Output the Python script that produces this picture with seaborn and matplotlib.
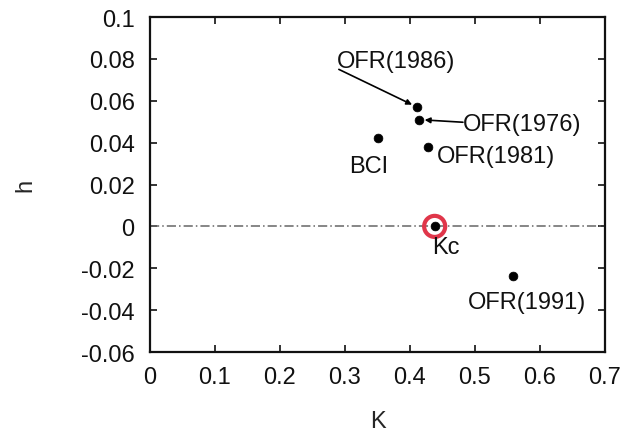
import numpy as np
import pandas as pd
import matplotlib
matplotlib.use("Agg")
import matplotlib.pyplot as plt
import seaborn as sns

# -------- Data --------
labels = ["OFR(1986)", "OFR(1976)", "OFR(1981)", "BCI", "Kc", "OFR(1991)"]
k_values = [0.411, 0.414, 0.428, 0.351, 0.438, 0.559]
h_values = [0.057, 0.051, 0.038, 0.042, 0.000, -0.0238]

x_ticks = [0, 0.1, 0.2, 0.3, 0.4, 0.5, 0.6, 0.7]
x_ticklabels = ["0", "0.1", "0.2", "0.3", "0.4", "0.5", "0.6", "0.7"]
y_ticks = [-0.06, -0.04, -0.02, 0, 0.02, 0.04, 0.06, 0.08, 0.1]
y_ticklabels = ["-0.06", "-0.04", "-0.02", "0", "0.02", "0.04", "0.06", "0.08", "0.1"]

df = pd.DataFrame({"K": k_values, "h": h_values, "label": labels})

# -------- Plot setup --------
sns.set_style("ticks")
plt.rcParams["font.family"] = ["Liberation Sans", "DejaVu Sans"]
plt.rcParams["text.color"] = "#111111"

fig = plt.figure(figsize=(6.21, 4.35), dpi=100)
ax = fig.add_axes([0.2415, 0.1885, 0.7327, 0.770])

# zero line
ax.axhline(0, color="#666666", linestyle=(0, (6, 2, 1, 2)), linewidth=1.1, zorder=1)

sns.scatterplot(data=df, x="K", y="h", ax=ax, color="black", s=40,
                edgecolor="black", zorder=3, legend=False)

# red ring around Kc
kc = df[df["label"] == "Kc"].iloc[0]
ax.scatter([kc["K"]], [kc["h"]], s=230, facecolor="none",
           edgecolor="#e0364a", linewidth=3, zorder=2)

# -------- Annotations --------
fs = 17
arrow = dict(arrowstyle="-|>", color="black", lw=1.2, patchA=None,
             shrinkA=0, shrinkB=4, mutation_scale=8)
ax.annotate("OFR(1986)", xy=(k_values[0], h_values[0]), xytext=(0.378, 0.079),
            ha="center", va="center", fontsize=fs,
            arrowprops=dict(arrow, relpos=(0.02, 0.12)))
ax.annotate("OFR(1976)", xy=(k_values[1], h_values[1]), xytext=(0.4815, 0.0487),
            ha="left", va="center", fontsize=fs,
            arrowprops=dict(arrow, relpos=(0.0, 0.6)))
ax.text(0.4415, 0.0335, "OFR(1981)", ha="left", va="center", fontsize=fs)
ax.text(0.336, 0.0287, "BCI", ha="center", va="center", fontsize=fs)
ax.text(0.455, -0.0099, "Kc", ha="center", va="center", fontsize=fs)
ax.text(0.580, -0.0363, "OFR(1991)", ha="center", va="center", fontsize=fs)

# -------- Axes --------
ax.set_xlim(0, 0.7)
ax.set_ylim(-0.06, 0.1)
ax.set_xticks(x_ticks)
ax.set_yticks(y_ticks)
ax.set_xticklabels(x_ticklabels)
ax.set_yticklabels(y_ticklabels)
ax.tick_params(direction="in", top=True, right=True, length=5, width=1.2,
               labelsize=fs, colors="#111111")
ax.tick_params(axis="x", pad=10)
ax.tick_params(axis="y", pad=11)
for sp in ax.spines.values():
    sp.set_linewidth(1.6)
    sp.set_visible(True)
    sp.set_color("#111111")

ax.set_xlabel("K", fontsize=fs)
ax.set_ylabel("h", fontsize=fs)
ax.xaxis.set_label_coords(0.5, -0.172)
ax.yaxis.set_label_coords(-0.25, 0.5)

fig.savefig("out.png", dpi=100)
